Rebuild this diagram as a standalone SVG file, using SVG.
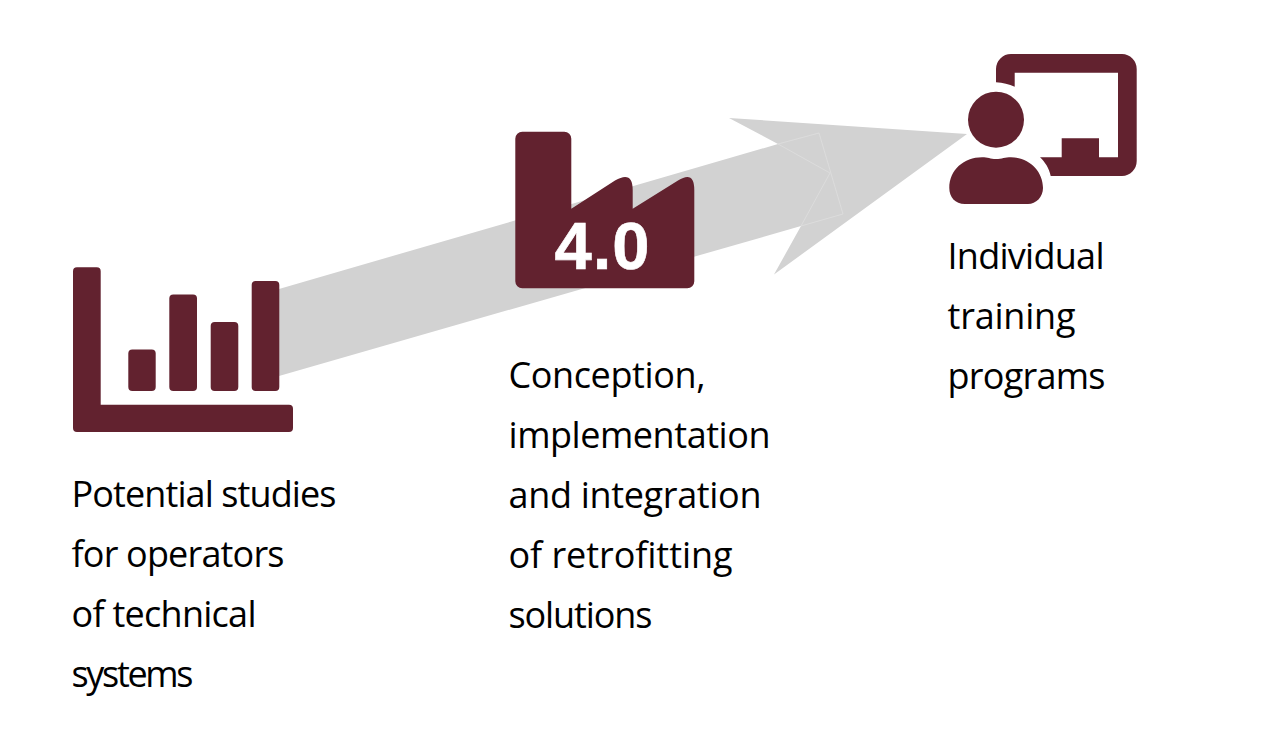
<svg xmlns="http://www.w3.org/2000/svg" width="1278" height="736" viewBox="0 0 1278 736">
<style>
.i{fill:#62222f}
.t{font-family:"Open Sans","Noto Sans","Liberation Sans",sans-serif;font-size:36px;fill:#000}
.f{fill:none;stroke:#dedede;stroke-width:.8}
</style>
<rect width="1278" height="736" fill="#fff"/>
<g id="connectors">
<path d="M279 289L778 144L729 118L967 134L774 274.500L801 226L279 376Z" fill="#d2d2d2"/>
<path class="f" d="M778 144L819 133L843 214L801 226M778 144L830 173L801 226"/>
</g>
<g id="node-studies">
<path class="i" d="M77 267.300H96.700a4 4 0 0 1 4 4V404.700H289a4 4 0 0 1 4 4V428a4 4 0 0 1-4 4H77a4 4 0 0 1-4-4V271.300a4 4 0 0 1 4-4Z"/>
<rect class="i" x="128.300" y="349.500" width="27.400" height="41.500" rx="4"/>
<rect class="i" x="169.300" y="294.500" width="27.700" height="96.500" rx="4"/>
<rect class="i" x="210.700" y="322" width="27.600" height="69" rx="4"/>
<rect class="i" x="251.700" y="281" width="27.600" height="110" rx="4"/>
<text class="t" x="71.500" y="506.500" textLength="265">Potential studies</text>
<text class="t" x="71.500" y="566.500" textLength="213">for operators</text>
<text class="t" x="71.500" y="626.500" textLength="185">of technical</text>
<text class="t" x="71.500" y="686.500" textLength="122">systems</text>
</g>
<g id="node-factory">
<path class="i" d="M522.300 131.700H564.300a7 7 0 0 1 7 7V208.700L615 180.500Q632.700 170 632.700 190V208.700L678 180.500Q694.300 170 694.300 190V281.300a7 7 0 0 1-7 7H522.300a7 7 0 0 1-7-7V138.700a7 7 0 0 1 7-7Z"/>
<text x="554.500" y="268.500" font-family="Liberation Sans,sans-serif" font-weight="700" font-size="67" fill="#fff" stroke="#fff" stroke-width=".6" textLength="95">4.0</text>
<text class="t" x="508.500" y="387.500" textLength="197">Conception,</text>
<text class="t" x="508.500" y="447.500" textLength="262">implementation</text>
<text class="t" x="508.500" y="507.500" textLength="253">and integration</text>
<text class="t" x="508.500" y="567.500" textLength="224">of retrofitting</text>
<text class="t" x="508.500" y="627.500" textLength="144">solutions</text>
</g>
<g id="node-training">
<path class="i" d="M1011 54H1122a15 15 0 0 1 14.700 15V161a15 15 0 0 1-14.700 15H1050.700C1049 168 1045 162 1040 157.300H1061.700V138.300H1099V157.300H1118V72.700H1014.700V86.700C1009 84 1003 82.800 996 82.300V69a15 15 0 0 1 15-15Z"/>
<circle class="i" cx="996" cy="119.700" r="28"/>
<path class="i" d="M965 204C955 204 949.300 197 949.300 188C949.300 170 964 157.300 982 157.300C988 157.300 990 159 996 159C1002 159 1005 157.300 1011 157.300C1029 157.300 1043 171 1043 188C1043 197 1036 204 1028 204Z"/>
<text class="t" x="947.500" y="268.500" textLength="157">Individual</text>
<text class="t" x="947.500" y="328.500" textLength="128">training</text>
<text class="t" x="947.500" y="388.500" textLength="158">programs</text>
</g>
</svg>
